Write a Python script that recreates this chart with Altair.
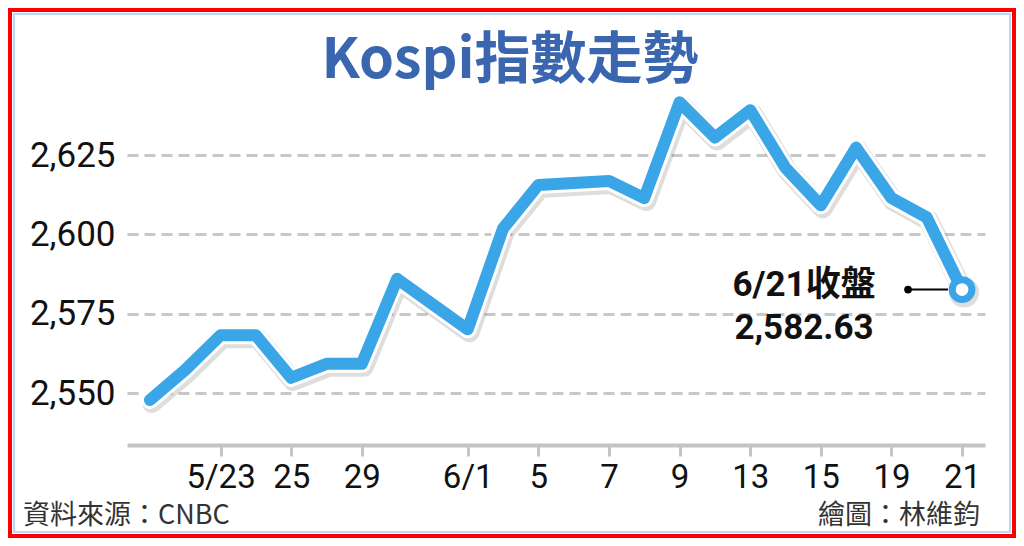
import altair as alt
import pandas as pd

# ---- data ----
slots = ["5/19", "5/22", "5/23", "5/24", "5/25", "5/26", "5/29", "5/30", "5/31",
         "6/1", "6/2", "6/5", "6/6", "6/7", "6/8", "6/9", "6/12", "6/13", "6/14",
         "6/15", "6/16", "6/19", "6/20", "6/21"]
dates = ["5/19", "5/22", "5/23", "5/24", "5/25", "5/26", "5/29", "5/30",
         "6/1", "6/2", "6/5", "6/7", "6/8", "6/9", "6/12", "6/13", "6/14",
         "6/15", "6/16", "6/19", "6/20", "6/21"]
values = [2547.8, 2557.3, 2568.2, 2568.2, 2554.8, 2559.2, 2559.2, 2586.0,
          2570.1, 2601.9, 2615.6, 2616.9, 2611.5, 2641.7, 2630.6, 2639.2,
          2621.0, 2609.2, 2627.4, 2611.5, 2605.4, 2582.63]
tick_dates = ["5/23", "5/25", "5/29", "6/1", "6/5", "6/7", "6/9", "6/13", "6/15", "6/19", "6/21"]
tick_labels = ["5/23", "25", "29", "6/1", "5", "7", "9", "13", "15", "19", "21"]
y_ticks = [2550, 2575, 2600, 2625]
title_text = "Kospi指數走勢"
source_text = "資料來源：CNBC"
credit_text = "繪圖：林維鈞"
last_label = "6/21收盤"
last_value_text = "2,582.63"

df = pd.DataFrame({"date": dates, "value": values})
last = pd.DataFrame({"date": [dates[-1]], "value": [values[-1]],
                     "l1": [last_label], "l2": [last_value_text]})
one = pd.DataFrame({"a": [0]})

BLUE = "#3aa6e8"
FONT = "Roboto, 'Noto Sans CJK TC'"
CJK = "'Noto Sans CJK TC'"

label_map = "{" + ",".join(f"'{d}':'{l}'" for d, l in zip(tick_dates, tick_labels)) + "}[datum.value]"

x_enc = alt.X("date:N", sort=slots,
              scale=alt.Scale(type="point", domain=slots, padding=0.65),
              axis=alt.Axis(values=tick_dates, labelExpr=label_map, title=None,
                            labelAngle=0, labelFont=FONT, labelFontSize=33,
                            labelColor="#111", labelPadding=5,
                            domainColor="#c4c4c4", domainWidth=4,
                            tickColor="#c4c4c4", tickWidth=3, tickSize=11,
                            grid=False))
y_enc = alt.Y("value:Q",
              scale=alt.Scale(domain=[2533.6, 2644.0], nice=False, zero=False),
              axis=alt.Axis(values=y_ticks, format=",d", title=None,
                            labelFont=FONT, labelFontSize=35, labelColor="#111",
                            labelPadding=12, ticks=False, domain=False,
                            grid=True, gridColor="#c8c8c8", gridWidth=3,
                            gridDash=[11, 6]))

base = alt.Chart(df).encode(x=x_enc, y=y_enc)

shadow = base.mark_line(color="#000000", opacity=0.13, strokeWidth=20,
                        xOffset=2, yOffset=3, strokeJoin="round", strokeCap="round")
halo = base.mark_line(color="white", strokeWidth=18, strokeJoin="round", strokeCap="round")
line = base.mark_line(color=BLUE, strokeWidth=12, strokeJoin="round", strokeCap="round")

lb = alt.Chart(last).encode(x=alt.X("date:N"), y=alt.Y("value:Q"))
rule = lb.mark_rule(color="black", strokeWidth=2, xOffset=-54, x2Offset=-14).encode(
    x2=alt.X2("date"))
dot = lb.mark_circle(color="black", size=60, opacity=1, xOffset=-54)
end_shadow = lb.mark_circle(color="#000000", opacity=0.13, size=900, xOffset=2, yOffset=3)
end = lb.mark_circle(fill="white", stroke=BLUE, strokeWidth=7, size=390, opacity=1)
t1 = lb.mark_text(font=FONT, fontSize=35, fontWeight="bold", color="#111",
                  align="center", baseline="middle", dx=-158, dy=-5).encode(text="l1:N")
t2 = lb.mark_text(font=FONT, fontSize=35, fontWeight="bold", color="#111",
                  align="center", baseline="middle", dx=-158, dy=38).encode(text="l2:N")

oc = alt.Chart(one)
border_red = oc.mark_rect(fill=None, stroke="#ff0000", strokeWidth=4).encode(
    x=alt.value(-117), x2=alt.value(887), y=alt.value(-85), y2=alt.value(441))
border_blue = oc.mark_rect(fill=None, stroke="#b5dbf7", strokeWidth=2).encode(
    x=alt.value(-113), x2=alt.value(883), y=alt.value(-81), y2=alt.value(437))
title = oc.mark_text(font=CJK, fontSize=56, fontWeight="bold", color="#3a66b0",
                     align="center", baseline="alphabetic").encode(
    x=alt.value(383), y=alt.value(-17), text=alt.value(title_text))
src = oc.mark_text(font=CJK, fontSize=27, color="#333333",
                   align="left", baseline="middle").encode(
    x=alt.value(-104), y=alt.value(421), text=alt.value(source_text))
cred = oc.mark_text(font=CJK, fontSize=27, color="#333333",
                    align="right", baseline="middle").encode(
    x=alt.value(853), y=alt.value(421), text=alt.value(credit_text))

chart = alt.layer(
    shadow, halo, line, rule, dot, end_shadow, end, t1, t2,
    border_red, border_blue, title, src, cred
).properties(
    width=858, height=350,
    autosize=alt.AutoSizeParams(type="none"),
    padding={"left": 119, "top": 87, "right": 31, "bottom": 93},
    background="white",
).configure_view(stroke=None)

chart.save("out.html", embed_options={"renderer": "svg", "actions": False})
